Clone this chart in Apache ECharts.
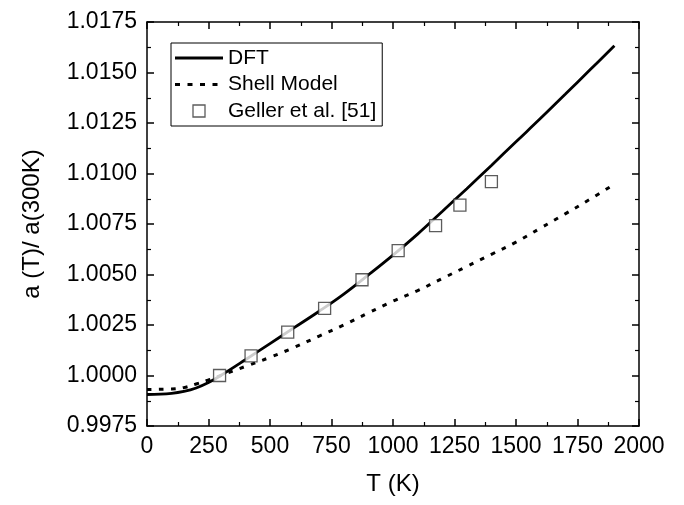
<!DOCTYPE html>
<html>
<head>
<meta charset="utf-8">
<script src="https://cdn.jsdelivr.net/npm/echarts@6/dist/echarts.min.js"></script>
<style>
  html, body { margin: 0; padding: 0; background: #fff; }
  #chart { width: 684px; height: 505px; }
</style>
</head>
<body>
<div id="chart"></div>
<script>
// Temperature grid (K) for the calculated curves
const temps = [0, 100, 150, 200, 250, 300, 400, 500, 600, 700, 800, 900, 1000,
               1100, 1200, 1300, 1400, 1500, 1600, 1700, 1800, 1900];

// DFT lattice parameter ratio a(T)/a(300K)
const dftRatio = [0.99906, 0.99912, 0.99921, 0.99938, 0.99965, 1.00000, 1.00078,
                  1.00158, 1.00238, 1.00318, 1.00403, 1.00498, 1.00596, 1.00700,
                  1.00812, 1.00925, 1.01040, 1.01157, 1.01273, 1.01392, 1.01512, 1.01633];

// Shell model ratio
const shellRatio = [0.99931, 0.99933, 0.99940, 0.99958, 0.99978, 1.00000, 1.00045,
                    1.00090, 1.00140, 1.00195, 1.00250, 1.00310, 1.00368, 1.00420,
                    1.00480, 1.00540, 1.00600, 1.00660, 1.00730, 1.00800, 1.00872, 1.00947];

// Experimental points (Geller et al. [51])
const expT = [295, 423, 572, 722, 874, 1021, 1173, 1272, 1400];
const expRatio = [1.00000, 1.00097, 1.00215, 1.00332, 1.00474, 1.00618, 1.00742, 1.00843, 1.00960];

// Axis ticks
const xMin = 0, xMax = 2000, xStep = 250;
const yMin = 0.9975, yMax = 1.0175, yStep = 0.0025;

const pair = (xs, ys) => xs.map((x, i) => [x, ys[i]]);

const font = '"Liberation Sans", Arial, sans-serif';
// Frame lines with inward-pointing major and minor ticks on all four sides
const mkLine = () => ({ show: true, onZero: false, lineStyle: { color: '#000', width: 1.5 } });
const mkTick = () => ({ show: true, inside: true, length: 7, lineStyle: { color: '#000', width: 1.5 } });
const mkMinor = () => ({ show: true, splitNumber: 2, length: 4, lineStyle: { color: '#000', width: 1.2 } });

// Legend glyphs: a solid bar, a row of short dashes, a small square
const solidIcon = 'path://M0,0H48V3H0Z';
const dashIcon = 'path://M0,0H5V3H0Z M12.5,0H17.5V3H12.5Z M25,0H30V3H25Z M37.5,0H42.5V3H37.5Z M48,0H48V3H48Z';
const squareIcon = 'path://M0,0H12V12H0Z';

const chart = echarts.init(document.getElementById('chart'), null, { renderer: 'canvas' });

chart.setOption({
  backgroundColor: '#fff',
  animation: false,
  textStyle: { fontFamily: font },
  grid: { left: 147, right: 45, top: 22, bottom: 79 },
  legend: {
    left: 171, top: 43,
    orient: 'vertical',
    padding: [4, 6, 4, 4],
    itemGap: 4.5,
    itemWidth: 48, itemHeight: 12,
    borderColor: '#000', borderWidth: 1,
    textStyle: { fontFamily: font, fontSize: 21, color: '#000', lineHeight: 22 },
    data: [
      { name: 'DFT', icon: solidIcon,
        itemStyle: { color: '#000', borderWidth: 0 }, lineStyle: { width: 0, opacity: 0 } },
      { name: 'Shell Model', icon: dashIcon,
        itemStyle: { color: '#000', borderWidth: 0 }, lineStyle: { width: 0, opacity: 0 } },
      { name: 'Geller et al. [51]', icon: squareIcon,
        itemStyle: { color: '#fff', borderColor: '#333', borderWidth: 1.3 } }
    ]
  },
  xAxis: [{
    type: 'value', min: xMin, max: xMax, interval: xStep,
    name: 'T (K)', nameLocation: 'middle', nameGap: 46,
    nameTextStyle: { fontFamily: font, fontSize: 24, color: '#000' },
    axisLine: mkLine(), axisTick: mkTick(), minorTick: mkMinor(),
    axisLabel: { color: '#000', fontSize: 23, fontFamily: font, margin: 9,
                 formatter: v => String(v) },
    splitLine: { show: false }
  }, {
    type: 'value', min: xMin, max: xMax, interval: xStep, position: 'top',
    axisLine: mkLine(), axisTick: mkTick(), minorTick: mkMinor(),
    axisLabel: { show: false }, splitLine: { show: false }
  }],
  yAxis: [{
    type: 'value', min: yMin, max: yMax, interval: yStep,
    name: 'a (T)/ a(300K)', nameLocation: 'middle', nameGap: 103,
    nameTextStyle: { fontFamily: font, fontSize: 24, color: '#000' },
    axisLine: mkLine(), axisTick: mkTick(), minorTick: mkMinor(),
    axisLabel: { color: '#000', fontSize: 23, fontFamily: font, margin: 10,
                 formatter: v => v.toFixed(4) },
    splitLine: { show: false }
  }, {
    type: 'value', min: yMin, max: yMax, interval: yStep, position: 'right',
    axisLine: mkLine(), axisTick: mkTick(), minorTick: mkMinor(),
    axisLabel: { show: false }, splitLine: { show: false }
  }],
  series: [{
    name: 'DFT', type: 'line',
    data: pair(temps, dftRatio),
    smooth: 0.4, showSymbol: false, symbol: 'none',
    lineStyle: { color: '#000', width: 2.8 },
    itemStyle: { color: '#000' },
    z: 3
  }, {
    name: 'Shell Model', type: 'line',
    data: pair(temps, shellRatio),
    smooth: 0.4, showSymbol: false, symbol: 'none',
    lineStyle: { color: '#000', width: 3, type: [4.5, 7.5], cap: 'butt' },
    itemStyle: { color: '#000' },
    z: 2
  }, {
    name: 'Geller et al. [51]', type: 'scatter',
    data: pair(expT, expRatio),
    symbol: 'rect', symbolSize: 12,
    itemStyle: { color: '#fff', borderColor: '#333', borderWidth: 1.3 },
    z: 4
  }]
});
</script>
</body>
</html>
